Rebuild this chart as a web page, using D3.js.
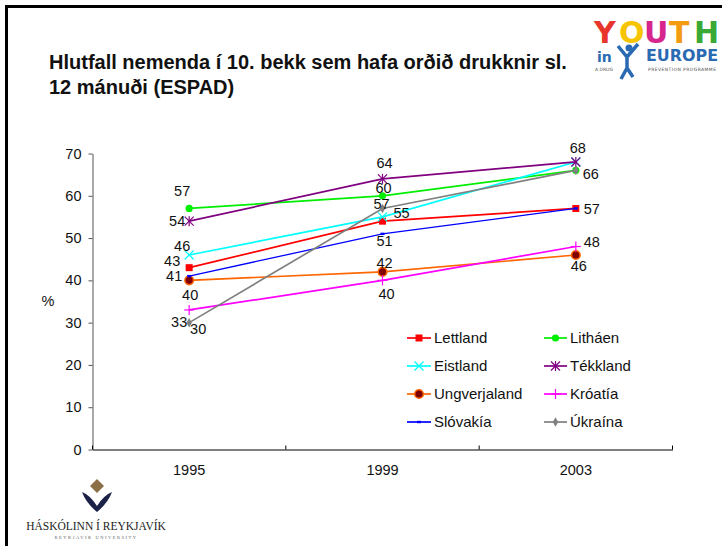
<!DOCTYPE html>
<html>
<head>
<meta charset="utf-8">
<script src="https://cdn.jsdelivr.net/npm/d3@7"></script>
<style>
  body { margin: 0; background: #fff; }
  svg { display: block; font-family: Arial, "Liberation Sans", sans-serif; }
</style>
</head>
<body>
<div id="graph_draw"></div>
<script>
// data
var years = ["1995", "1999", "2003"];
var yTicks = [0, 10, 20, 30, 40, 50, 60, 70];
var seriesNames = ["Lettland", "Litháen", "Eistland", "Tékkland", "Ungverjaland", "Króatía", "Slóvakía", "Úkraína"];
var lettland     = [43, 54, 57];
var lithaen      = [57, 60, 66];
var eistland     = [46, 55, 68];
var tekkland     = [54, 64, 68];
var ungverjaland = [40, 42, 46];
var kroatia      = [33, 40, 48];
var slovakia     = [41, 51, 57];
var ukraina      = [30, 57, 66];
var values = [lettland, lithaen, eistland, tekkland, ungverjaland, kroatia, slovakia, ukraina];

var titleLines = ["Hlutfall nemenda í 10. bekk sem hafa orðið drukknir sl.", "12 mánuði (ESPAD)"];

// look of each series
var styles = {
  "Lettland":     {color: "#ff0000", marker: "square"},
  "Litháen":      {color: "#00ee00", marker: "circle"},
  "Eistland":     {color: "#00ffff", marker: "x"},
  "Tékkland":     {color: "#800080", marker: "star"},
  "Ungverjaland": {color: "#ff6600", marker: "dot"},
  "Króatía":      {color: "#ff00ff", marker: "plus"},
  "Slóvakía":     {color: "#0000ff", marker: "dash"},
  "Úkraína":      {color: "#808080", marker: "diamond"}
};
// where the value labels sit relative to their point (null = no label)
var labelOffsets = {
  "Lettland":     [[-17, -7], null, [16, 0]],
  "Litháen":      [[-7, -18], [1, -8], null],
  "Eistland":     [[-7, -9], [19, -4], null],
  "Tékkland":     [[-12, 0], [2, -16], [2, -14]],
  "Ungverjaland": [[1, 14], [2, -9], [3, 11]],
  "Króatía":      [[-10, 12], [4, 13], [16, -5]],
  "Slóvakía":     [[-15, 0], [2, 7], null],
  "Úkraína":      [[9, 6], [-1, -5], [15, 3]]
};

var W = 722, H = 546;
var FS = 14.5;
var svg = d3.select("#graph_draw").append("svg")
    .attr("width", W)
    .attr("height", H);

svg.append("rect").attr("width", W).attr("height", H).attr("fill", "#fff");

// slide frame (top + left only)
svg.append("line").attr("x1", 5).attr("x2", W).attr("y1", 6.5).attr("y2", 6.5)
    .attr("stroke", "#000").attr("stroke-width", 3);
svg.append("line").attr("x1", 6.5).attr("x2", 6.5).attr("y1", 5).attr("y2", H)
    .attr("stroke", "#000").attr("stroke-width", 3);

// title
svg.append("g").selectAll("text")
    .data(titleLines)
    .enter().append("text")
    .attr("x", 49)
    .attr("y", function(d, i) { return 69 + i * 25; })
    .attr("font-size", 20)
    .attr("font-weight", "bold")
    .attr("fill", "#111")
    .text(function(d) { return d; });

// scales
var x = d3.scaleBand().domain(years).range([92.5, 672.5]);
var y = d3.scaleLinear().domain([0, 70]).range([449.5, 153.5]);
var cx = function(i) { return x(years[i]) + x.bandwidth() / 2; };

// y axis
var yAxis = svg.append("g")
    .attr("transform", "translate(92.5,0)")
    .call(d3.axisLeft(y).tickValues(yTicks).tickSize(4).tickPadding(7).tickSizeOuter(0));
yAxis.select(".domain").attr("stroke", "#555");
yAxis.selectAll(".tick line").attr("stroke", "#555");
yAxis.selectAll("text").attr("font-size", FS).attr("fill", "#111")
    .attr("font-family", "Arial, 'Liberation Sans', sans-serif");

svg.append("text").attr("x", 48).attr("y", 306)
    .attr("text-anchor", "middle").attr("font-size", FS).attr("fill", "#111").text("%");

// x axis
var xAxis = svg.append("g")
    .attr("transform", "translate(0,449.5)")
    .call(d3.axisBottom(x).tickSize(0).tickPadding(15));
xAxis.select(".domain").attr("stroke", "#000");
xAxis.selectAll("text").attr("font-size", FS).attr("fill", "#111")
    .attr("font-family", "Arial, 'Liberation Sans', sans-serif");
// category boundary ticks point inward
var bounds = years.map(function(d) { return x(d); }).concat([x.range()[1]]);
xAxis.selectAll(".bound").data(bounds).enter().append("line")
    .attr("x1", function(d) { return d; }).attr("x2", function(d) { return d; })
    .attr("y1", 0).attr("y2", -4).attr("stroke", "#000");

function drawMarker(g, type, color, px, py) {
  if (type === "square") {
    g.append("rect").attr("x", px - 3.5).attr("y", py - 3.5).attr("width", 7).attr("height", 7).attr("fill", color);
  } else if (type === "circle") {
    g.append("circle").attr("cx", px).attr("cy", py).attr("r", 3.6).attr("fill", color);
  } else if (type === "dot") {
    g.append("circle").attr("cx", px).attr("cy", py).attr("r", 4.3)
      .attr("fill", "#800000").attr("stroke", color).attr("stroke-width", 1.5);
  } else if (type === "diamond") {
    g.append("path").attr("d", d3.symbol().type(d3.symbolDiamond).size(26)())
      .attr("transform", "translate(" + px + "," + py + ")").attr("fill", color);
  } else if (type === "dash") {
    g.append("rect").attr("x", px - 2).attr("y", py - 1.2).attr("width", 4).attr("height", 2.4).attr("fill", color);
  } else {
    var s = 4.5, segs = [];
    if (type === "x" || type === "star") segs.push([-s, -s, s, s], [-s, s, s, -s]);
    if (type === "plus") segs.push([-s - 0.5, 0, s + 0.5, 0], [0, -s - 0.5, 0, s + 0.5]);
    if (type === "star") segs.push([0, -s - 0.5, 0, s + 0.5]);
    segs.forEach(function(d) {
      g.append("line").attr("x1", px + d[0]).attr("y1", py + d[1])
        .attr("x2", px + d[2]).attr("y2", py + d[3])
        .attr("stroke", color).attr("stroke-width", 1.2);
    });
  }
}

// series lines and markers
var line = d3.line()
    .x(function(d, i) { return cx(i); })
    .y(function(d) { return y(d); });

seriesNames.forEach(function(name, k) {
  var st = styles[name];
  var g = svg.append("g");
  g.append("path").datum(values[k])
    .attr("d", line)
    .attr("fill", "none")
    .attr("stroke", st.color)
    .attr("stroke-width", name === "Slóvakía" ? 1.3 : 1.7);
  values[k].forEach(function(v, i) { drawMarker(g, st.marker, st.color, cx(i), y(v)); });
});

// value labels
seriesNames.forEach(function(name, k) {
  values[k].forEach(function(v, i) {
    var off = labelOffsets[name][i];
    if (!off) return;
    svg.append("text")
      .attr("x", cx(i) + off[0])
      .attr("y", y(v) + off[1])
      .attr("dy", "0.36em")
      .attr("text-anchor", "middle")
      .attr("font-size", FS)
      .attr("fill", "#111")
      .text(v);
  });
});

// legend, two columns
var legend = svg.append("g");
seriesNames.forEach(function(name, k) {
  var col = k % 2, row = Math.floor(k / 2);
  var lx = col === 0 ? 407 : 544;
  var lw = col === 0 ? 24 : 23;
  var ly = 338 + row * 28;
  var g = legend.append("g");
  g.append("line").attr("x1", lx).attr("x2", lx + lw).attr("y1", ly).attr("y2", ly)
    .attr("stroke", styles[name].color).attr("stroke-width", 1.7);
  drawMarker(g, styles[name].marker, styles[name].color, lx + lw / 2, ly);
  g.append("text").attr("x", lx + lw + 3).attr("y", ly).attr("dy", "0.36em")
    .attr("font-size", 15).attr("fill", "#111").text(name);
});

// "Youth in Europe" logo (approximation)
var logo = svg.append("g").attr("font-family", "'DejaVu Sans', sans-serif").attr("font-weight", "bold");
var youth = [["Y", "#e8362d"], ["O", "#f6c400"], ["U", "#d6268e"], ["T", "#f39c12"], ["H", "#3aa935"]];
youth.forEach(function(d, i) {
  logo.append("text").attr("x", 594 + i * 25).attr("y", 43)
    .attr("font-size", 30).attr("fill", d[1]).text(d[0]);
});
logo.append("text").attr("x", 597).attr("y", 62).attr("font-size", 14).attr("fill", "#2a6ab3").text("in");
logo.append("path").attr("d", "M618,46 L627,57 L638,44 M627,57 L627,68 M627,68 L621,79 M627,68 L633,77")
  .attr("stroke", "#2a6ab3").attr("stroke-width", 3.5).attr("fill", "none");
logo.append("circle").attr("cx", 629).attr("cy", 48).attr("r", 3.5).attr("fill", "#2a6ab3");
logo.append("text").attr("x", 646).attr("y", 61).attr("font-size", 15).attr("fill", "#2a6ab3")
  .attr("textLength", 72).attr("lengthAdjust", "spacingAndGlyphs").text("EUROPE");
logo.append("text").attr("x", 595).attr("y", 71).attr("font-size", 4.5).attr("font-weight", "normal")
  .attr("fill", "#555").text("A DRUG");
logo.append("text").attr("x", 648).attr("y", 71).attr("font-size", 4.5).attr("font-weight", "normal")
  .attr("fill", "#555").attr("textLength", 68).text("PREVENTION PROGRAMME");

// Reykjavik University logo (approximation)
var ru = svg.append("g");
ru.append("path").attr("d", "M97,479 L104,486 L97,493 L90,486 Z").attr("fill", "#8b6f47");
ru.append("path").attr("d", "M82,492 Q90,495 97,506 Q104,495 112,492 Q108,503 97,512 Q86,503 82,492 Z").attr("fill", "#1c2147");
ru.append("text").attr("x", 96).attr("y", 530).attr("text-anchor", "middle")
  .attr("font-family", "'Liberation Serif', serif").attr("font-size", 11.5).attr("fill", "#222")
  .text("HÁSKÓLINN Í REYKJAVÍK");
ru.append("text").attr("x", 96).attr("y", 539).attr("text-anchor", "middle")
  .attr("font-family", "'Liberation Serif', serif").attr("font-size", 4.5).attr("letter-spacing", 1.5)
  .attr("fill", "#666").text("REYKJAVIK UNIVERSITY");
</script>
</body>
</html>
